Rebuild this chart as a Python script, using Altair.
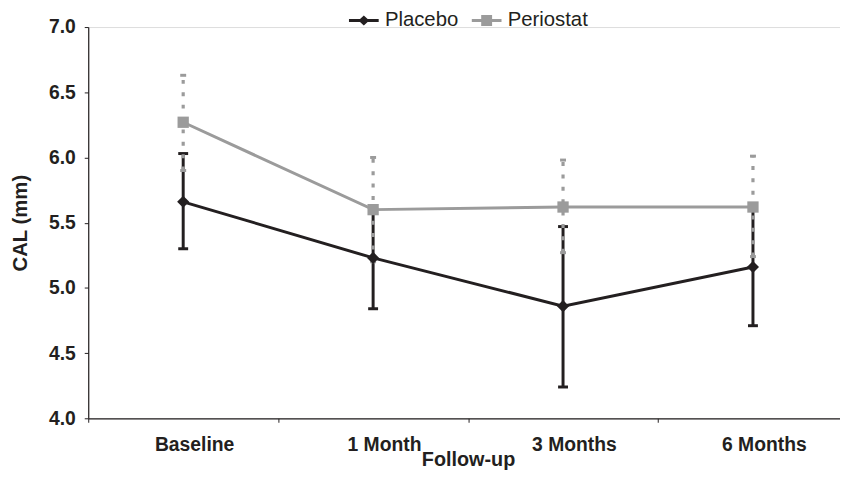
import altair as alt
import pandas as pd

times = ["Baseline", "1 Month", "3 Months", "6 Months"]
series = ["Placebo", "Periostat"]

placebo_mean = [5.66, 5.23, 4.86, 5.16]
placebo_lo = [5.30, 4.84, 4.24, 4.71]
placebo_hi = [6.03, 5.61, 5.47, 5.62]

periostat_mean = [6.27, 5.60, 5.62, 5.62]
periostat_lo = [5.90, 5.20, 5.27, 5.24]
periostat_hi = [6.63, 6.00, 5.98, 6.01]

y_ticks = [4.0, 4.5, 5.0, 5.5, 6.0, 6.5, 7.0]

rows = []
for i, t in enumerate(times):
    rows.append({"series": "Placebo", "time": t, "mean": placebo_mean[i],
                 "lo": placebo_lo[i], "hi": placebo_hi[i]})
    rows.append({"series": "Periostat", "time": t, "mean": periostat_mean[i],
                 "lo": periostat_lo[i], "hi": periostat_hi[i]})
df = pd.DataFrame(rows)

BLACK = "#231f20"
GRAY = "#9b9b9b"
FONT = "Liberation Sans"

xenc = alt.X(
    "time:N", sort=times, title="Follow-up",
    scale=alt.Scale(type="band", domain=times, range=[0, 767],
                    paddingInner=0, paddingOuter=0),
    axis=alt.Axis(labelAngle=0, tickBand="extent", labelOffset=11,
                  labelFont=FONT, labelFontWeight="bold", labelFontSize=19.5,
                  labelColor=BLACK, labelPadding=14, tickSize=4,
                  tickColor=BLACK, domainColor=BLACK, domainWidth=1.2,
                  titleFont=FONT, titleFontWeight="bold", titleFontSize=20,
                  titleColor=BLACK, titleY=48, titleBaseline="alphabetic"),
)
yscale = alt.Scale(domain=[4, 7], nice=False, zero=False)
yaxis = alt.Axis(values=y_ticks, format=".1f", grid=False,
                 labelFont=FONT, labelFontWeight="bold", labelFontSize=19.5,
                 labelColor=BLACK, labelPadding=9, tickSize=4,
                 tickColor=BLACK, domainColor=BLACK, domainWidth=1.2,
                 titleFont=FONT, titleFontWeight="bold", titleFontSize=20.5,
                 titleColor=BLACK, titlePadding=18)

base = alt.Chart(df).encode(x=xenc)
pl = base.transform_filter(alt.datum.series == "Placebo")
pe = base.transform_filter(alt.datum.series == "Periostat")

pl_err = pl.mark_rule(color=BLACK, strokeWidth=3).encode(
    y=alt.Y("lo:Q", scale=yscale, axis=yaxis, title="CAL (mm)"), y2="hi:Q")
pl_cap_lo = pl.mark_tick(color=BLACK, size=10, thickness=3, opacity=1).encode(y="lo:Q")
pl_cap_hi = pl.mark_tick(color=BLACK, size=10, thickness=3, opacity=1).encode(y="hi:Q")

pe_err = pe.mark_rule(color=GRAY, strokeWidth=3.2, strokeDash=[4, 8.5]).encode(
    y="lo:Q", y2="hi:Q")
pe_cap_lo = pe.mark_tick(color=GRAY, size=6, thickness=3, opacity=1).encode(y="lo:Q")
pe_cap_hi = pe.mark_tick(color=GRAY, size=6, thickness=3, opacity=1).encode(y="hi:Q")

pe_line = pe.mark_line(color=GRAY, strokeWidth=3).encode(y="mean:Q")
pe_pts = pe.mark_point(shape="square", filled=True, color=GRAY, size=130,
                       opacity=1).encode(y="mean:Q")
pl_line = pl.mark_line(color=BLACK, strokeWidth=3).encode(y="mean:Q")
pl_pts = pl.mark_point(shape="diamond", filled=True, color=BLACK, size=150,
                       opacity=1).encode(y="mean:Q")

legend_paths = [
    "M-3,-0.3L3,-0.3L3,0.3L-3,0.3Z M-1.1,0L0,-1L1.1,0L0,1Z",
    "M-3,-0.3L3,-0.3L3,0.3L-3,0.3Z M-1.1,-1.1L1.1,-1.1L1.1,1.1L-1.1,1.1Z",
]
legend_layer = base.transform_filter("false").mark_point(filled=True, opacity=1).encode(
    y="mean:Q",
    color=alt.Color("series:N", scale=alt.Scale(domain=series, range=[BLACK, GRAY]),
                    title=None,
                    legend=alt.Legend(orient="none", legendX=268, legendY=-17,
                                      direction="horizontal", padding=0,
                                      symbolSize=100, symbolOpacity=1,
                                      symbolStrokeWidth=0, labelOffset=11,
                                      columnPadding=13, labelFont=FONT,
                                      labelFontSize=20.5, labelColor=BLACK,
                                      labelLimit=200)),
    shape=alt.Shape("series:N", scale=alt.Scale(domain=series, range=legend_paths),
                    title=None),
)

chart = alt.layer(
    pl_err, pl_cap_lo, pl_cap_hi,
    pe_err, pe_cap_lo, pe_cap_hi,
    pe_line, pe_pts, pl_line, pl_pts, legend_layer,
).properties(
    width=759, height=395,
    autosize=alt.AutoSizeParams(type="none"),
    padding={"left": 81, "top": 17, "right": 0, "bottom": 53},
).configure_view(stroke=None).configure(background="white")

chart.save("out.html", embed_options={"renderer": "svg", "actions": False})
